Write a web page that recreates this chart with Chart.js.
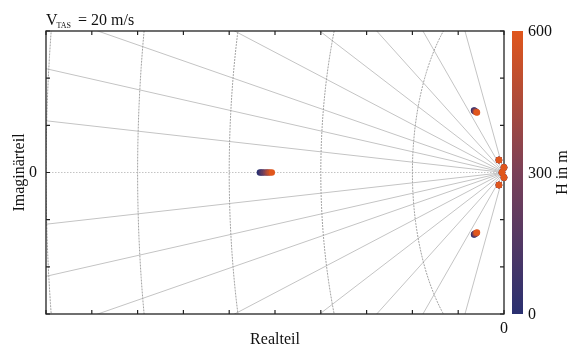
<!DOCTYPE html>
<html>
<head>
<meta charset="utf-8">
<script src="https://cdn.jsdelivr.net/npm/chart.js@4.4.0/dist/chart.umd.min.js"></script>
<style>
  html, body { margin: 0; padding: 0; background: #fff; }
  #wrap { width: 572px; height: 346px; }
</style>
</head>
<body>
<div id="wrap"><canvas id="pzChart"></canvas></div>
<script>
const altitudes = [0, 100, 200, 300, 400, 500, 600];

// fast real pole, drifts right with altitude
const realPoleRe = [-5.33, -5.29, -5.25, -5.20, -5.16, -5.12, -5.07];
// oscillatory pair
const pairRe = [-0.655, -0.645, -0.634, -0.623, -0.612, -0.601, -0.590];
const pairIm = [0.657, 0.654, 0.650, 0.647, 0.643, 0.640, 0.636];
// slow pair near origin
const slowRe = [-0.11, -0.11, -0.11, -0.11, -0.11, -0.11, -0.11];
const slowIm = [0.132, 0.132, 0.132, 0.132, 0.132, 0.132, 0.132];
// very slow pair on the imaginary axis
const edgeRe = [0, 0, 0, 0, 0, 0, 0];
const edgeIm = [0.053, 0.053, 0.053, 0.053, 0.053, 0.053, 0.053];
// slow real pole
const slowRealRe = [-0.044, -0.044, -0.044, -0.044, -0.044, -0.044, -0.044];

const zetaLines = [0.494, 0.763, 0.880, 0.937, 0.969, 0.986, 0.994, 0.9985];
const wnArcs = [2, 4, 6, 8, 10];
const cbarTicks = [0, 300, 600];

const serif = "'Liberation Serif', 'Times New Roman', serif";
const cmap = [[42, 48, 112], [122, 64, 88], [224, 86, 28]];

function hColor(h) {
  const t = h / 600 * (cmap.length - 1);
  const i = Math.min(Math.floor(t), cmap.length - 2);
  const f = t - i;
  const c = cmap[i].map((v, k) => Math.round(v + (cmap[i + 1][k] - v) * f));
  return `rgb(${c[0]},${c[1]},${c[2]})`;
}

const datasets = altitudes.map((h, i) => ({
  label: 'H = ' + h,
  data: [
    { x: realPoleRe[i], y: 0 },
    { x: pairRe[i], y: pairIm[i] },
    { x: pairRe[i], y: -pairIm[i] },
    { x: slowRe[i], y: slowIm[i] },
    { x: slowRe[i], y: -slowIm[i] },
    { x: edgeRe[i], y: edgeIm[i] },
    { x: edgeRe[i], y: -edgeIm[i] },
    { x: slowRealRe[i], y: 0 }
  ],
  pointRadius: 3.2,
  pointBorderWidth: 0,
  pointBackgroundColor: hColor(h),
  clip: false,
  order: altitudes.length - i
}));

const sgrid = {
  id: 'sgrid',
  beforeDatasetsDraw(chart) {
    const { ctx, chartArea: a, scales: { x, y } } = chart;
    ctx.save();
    ctx.beginPath();
    ctx.rect(a.left, a.top, a.right - a.left, a.bottom - a.top);
    ctx.clip();
    ctx.lineWidth = 1;
    // constant damping rays
    ctx.strokeStyle = '#c4c4c4';
    zetaLines.forEach(z => {
      const s = Math.sqrt(1 - z * z);
      [1, -1].forEach(sg => {
        ctx.beginPath();
        ctx.moveTo(x.getPixelForValue(0), y.getPixelForValue(0));
        ctx.lineTo(x.getPixelForValue(-40 * z), y.getPixelForValue(sg * 40 * s));
        ctx.stroke();
      });
    });
    // real axis
    ctx.setLineDash([1.5, 1.5]);
    ctx.strokeStyle = '#c4c4c4';
    ctx.beginPath();
    ctx.moveTo(a.left, y.getPixelForValue(0));
    ctx.lineTo(a.right, y.getPixelForValue(0));
    ctx.stroke();
    // natural frequency arcs
    ctx.strokeStyle = '#a2a2a2';
    ctx.setLineDash([2, 1]);
    wnArcs.forEach(w => {
      ctx.beginPath();
      for (let k = 0; k <= 180; k++) {
        const t = (k - 90) * Math.PI / 180;
        const px = x.getPixelForValue(-w * Math.cos(t));
        const py = y.getPixelForValue(w * Math.sin(t));
        k ? ctx.lineTo(px, py) : ctx.moveTo(px, py);
      }
      ctx.stroke();
    });
    ctx.restore();

    // frame with inward ticks
    ctx.save();
    ctx.strokeStyle = '#222';
    ctx.lineWidth = 1.3;
    ctx.strokeRect(a.left, a.top, a.right - a.left, a.bottom - a.top);
    ctx.lineWidth = 1.2;
    ctx.beginPath();
    x.ticks.forEach(t => {
      const px = x.getPixelForValue(t.value);
      ctx.moveTo(px, a.bottom); ctx.lineTo(px, a.bottom - 4);
      ctx.moveTo(px, a.top); ctx.lineTo(px, a.top + 4);
    });
    y.ticks.forEach(t => {
      const py = y.getPixelForValue(t.value);
      ctx.moveTo(a.left, py); ctx.lineTo(a.left + 4, py);
      ctx.moveTo(a.right, py); ctx.lineTo(a.right - 4, py);
    });
    ctx.stroke();
    ctx.restore();
  },
  afterDraw(chart) {
    const { ctx, chartArea: a } = chart;
    ctx.save();
    ctx.fillStyle = '#111';
    // title with subscript
    ctx.textBaseline = 'alphabetic';
    ctx.textAlign = 'left';
    ctx.font = '16px ' + serif;
    ctx.fillText('V', 46, 25);
    ctx.font = '8px ' + serif;
    ctx.fillText('TAS', 56.5, 28);
    ctx.font = '16px ' + serif;
    ctx.fillText('= 20 m/s', 78, 25);

    // axis titles
    ctx.font = '16px ' + serif;
    ctx.textAlign = 'center';
    ctx.fillText('Realteil', (a.left + a.right) / 2, 344);
    ctx.save();
    ctx.translate(24, (a.top + a.bottom) / 2);
    ctx.rotate(-Math.PI / 2);
    ctx.fillText('Imaginärteil', 0, 0);
    ctx.restore();

    // colour bar
    const bx = 512, bw = 11;
    const g = ctx.createLinearGradient(0, a.bottom, 0, a.top);
    cmap.forEach((c, i) => g.addColorStop(i / (cmap.length - 1), `rgb(${c[0]},${c[1]},${c[2]})`));
    ctx.fillStyle = g;
    ctx.fillRect(bx, a.top, bw, a.bottom - a.top);
    ctx.fillStyle = '#111';
    ctx.textAlign = 'left';
    ctx.textBaseline = 'middle';
    ctx.font = '16px ' + serif;
    cbarTicks.forEach(v => {
      const py = a.bottom - (a.bottom - a.top) * v / 600;
      ctx.fillText(String(v), 528, py + 1);
    });
    ctx.save();
    ctx.translate(563, (a.top + a.bottom) / 2);
    ctx.rotate(-Math.PI / 2);
    ctx.textAlign = 'center';
    ctx.fillText('H in m', 0, 0);
    ctx.restore();
    ctx.restore();
  }
};

new Chart(document.getElementById('pzChart'), {
  type: 'scatter',
  data: { datasets },
  options: {
    responsive: true,
    maintainAspectRatio: false,
    animation: false,
    layout: { padding: { top: 31, right: 68, left: 0, bottom: 0 } },
    plugins: {
      legend: { display: false },
      tooltip: { enabled: false }
    },
    scales: {
      x: {
        min: -10,
        max: 0,
        afterFit: s => { s.height = 32; },
        grid: { display: false, drawTicks: false },
        border: { display: false },
        ticks: {
          stepSize: 1,
          autoSkip: false,
          maxRotation: 0,
          padding: 5,
          color: '#111',
          font: { family: serif, size: 16 },
          callback: v => v === 0 ? '0' : ''
        }
      },
      y: {
        min: -1.5,
        max: 1.5,
        afterFit: s => { s.width = 46; },
        grid: { display: false, drawTicks: false },
        border: { display: false },
        ticks: {
          stepSize: 0.5,
          autoSkip: false,
          padding: 9,
          color: '#111',
          font: { family: serif, size: 16 },
          callback: v => v === 0 ? '0' : ''
        }
      }
    }
  },
  plugins: [sgrid]
});
</script>
</body>
</html>
